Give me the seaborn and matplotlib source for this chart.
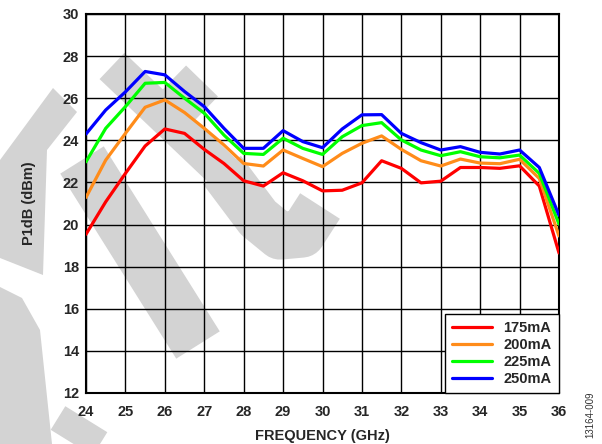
import numpy as np
import pandas as pd
import matplotlib
matplotlib.use("Agg")
import matplotlib.pyplot as plt
import seaborn as sns
from matplotlib.lines import Line2D
from matplotlib.patches import Polygon

freq = [24, 24.5, 25, 25.5, 26, 26.5, 27, 27.5, 28, 28.5, 29, 29.5, 30,
        30.5, 31, 31.5, 32, 32.5, 33, 33.5, 34, 34.5, 35, 35.5, 36]
p175 = [19.54, 21.08, 22.43, 23.73, 24.54, 24.33, 23.57, 22.90, 22.08, 21.83, 22.46, 22.08, 21.60,
        21.63, 21.98, 23.03, 22.67, 21.98, 22.06, 22.71, 22.71, 22.67, 22.79, 21.83, 18.65]
p200 = [21.29, 23.06, 24.33, 25.57, 25.92, 25.32, 24.57, 23.78, 22.90, 22.78, 23.54, 23.14, 22.75,
        23.38, 23.86, 24.21, 23.57, 23.03, 22.78, 23.11, 22.92, 22.89, 23.10, 22.19, 19.46]
p225 = [22.98, 24.57, 25.60, 26.71, 26.75, 26.00, 25.29, 24.25, 23.38, 23.33, 24.10, 23.62, 23.33,
        24.17, 24.70, 24.84, 24.02, 23.54, 23.27, 23.46, 23.22, 23.17, 23.30, 22.43, 20.02]
p250 = [24.30, 25.44, 26.30, 27.27, 27.11, 26.32, 25.60, 24.57, 23.62, 23.62, 24.46, 23.94, 23.65,
        24.54, 25.21, 25.22, 24.33, 23.89, 23.54, 23.70, 23.43, 23.35, 23.54, 22.71, 20.44]
labels = ["175mA", "200mA", "225mA", "250mA"]
colors = ["#ff0000", "#ff8c1a", "#00ff00", "#0000ff"]
xticks = list(range(24, 37))
yticks = list(range(12, 31, 2))

df = pd.concat([
    pd.DataFrame({"freq": freq, "p1db": vals, "cur": lab})
    for vals, lab in zip([p175, p200, p225, p250], labels)
])

sns.set_theme(style="white")
plt.rcParams["font.family"] = ["Liberation Sans", "DejaVu Sans"]

W, H = 602, 444
fig = plt.figure(figsize=(W / 100, H / 100), dpi=100)

# background watermark (decorative, figure pixel coordinates)
def px(pts):
    return [p[0] / W for p in pts], [1 - p[1] / H for p in pts]

wm = "#d3d3d3"
for pts, lw in [
    ([(112, 66), (232, 180)], 26),
    ([(222, 170), (258, 218), (280, 236), (302, 234), (320, 206)], 34),
    ([(202, 81), (167, 117)], 32),
    ([(82, 160), (198, 345)], 37),
    ([(58, 418), (100, 444)], 20),
]:
    xs, ys = px(pts)
    fig.add_artist(Line2D(xs, ys, color=wm, lw=lw, solid_capstyle="butt",
                          solid_joinstyle="round", zorder=0))
for poly in [
    [(53, 88), (77, 112), (47, 150), (43, 275), (0, 258), (0, 160)],
    [(0, 287), (22, 298), (40, 330), (52, 444), (0, 444)],
]:
    xs, ys = px(poly)
    fig.add_artist(Polygon(list(zip(xs, ys)), closed=True, facecolor=wm,
                           edgecolor="none", transform=fig.transFigure, zorder=0))

ax = fig.add_axes([86 / W, 1 - 393 / H, (559 - 86) / W, (393 - 14) / H])
ax.set_facecolor("none")
ax.set_zorder(1)

sns.lineplot(data=df, x="freq", y="p1db", hue="cur", palette=colors,
             hue_order=labels, linewidth=2.3, ax=ax, zorder=3)

ax.set_xlim(24, 36)
ax.set_ylim(12, 30)
ax.set_xticks(xticks)
ax.set_yticks(yticks)
ax.grid(True, color="black", linewidth=1.0, zorder=1)
ax.set_axisbelow(True)
for s in ax.spines.values():
    s.set_color("black")
    s.set_linewidth(1.5)
ax.tick_params(axis="x", length=0, pad=9, labelsize=10.5)
ax.tick_params(axis="y", length=0, pad=5, labelsize=10.5)
for t in ax.get_xticklabels() + ax.get_yticklabels():
    t.set_fontweight("bold")
ax.set_xlabel("FREQUENCY (GHz)", fontsize=10.5, fontweight="bold", labelpad=7)
ax.set_ylabel("P1dB (dBm)", fontsize=10.5, fontweight="bold", labelpad=19)

leg = ax.legend(loc="lower right", borderaxespad=0, fancybox=False,
                frameon=True, edgecolor="black", framealpha=1,
                handlelength=2.7, labelspacing=0.2, handletextpad=0.8,
                prop={"weight": "bold", "size": 10.5}, borderpad=0.5)
leg.get_frame().set_linewidth(1.0)
for h in leg.get_lines():
    h.set_linewidth(2.3)

fig.text(590 / W, 1 - 415 / H, "13164-009", rotation=90, fontsize=7,
         ha="center", va="center", color="#333333")

fig.savefig("out.png", dpi=100)
